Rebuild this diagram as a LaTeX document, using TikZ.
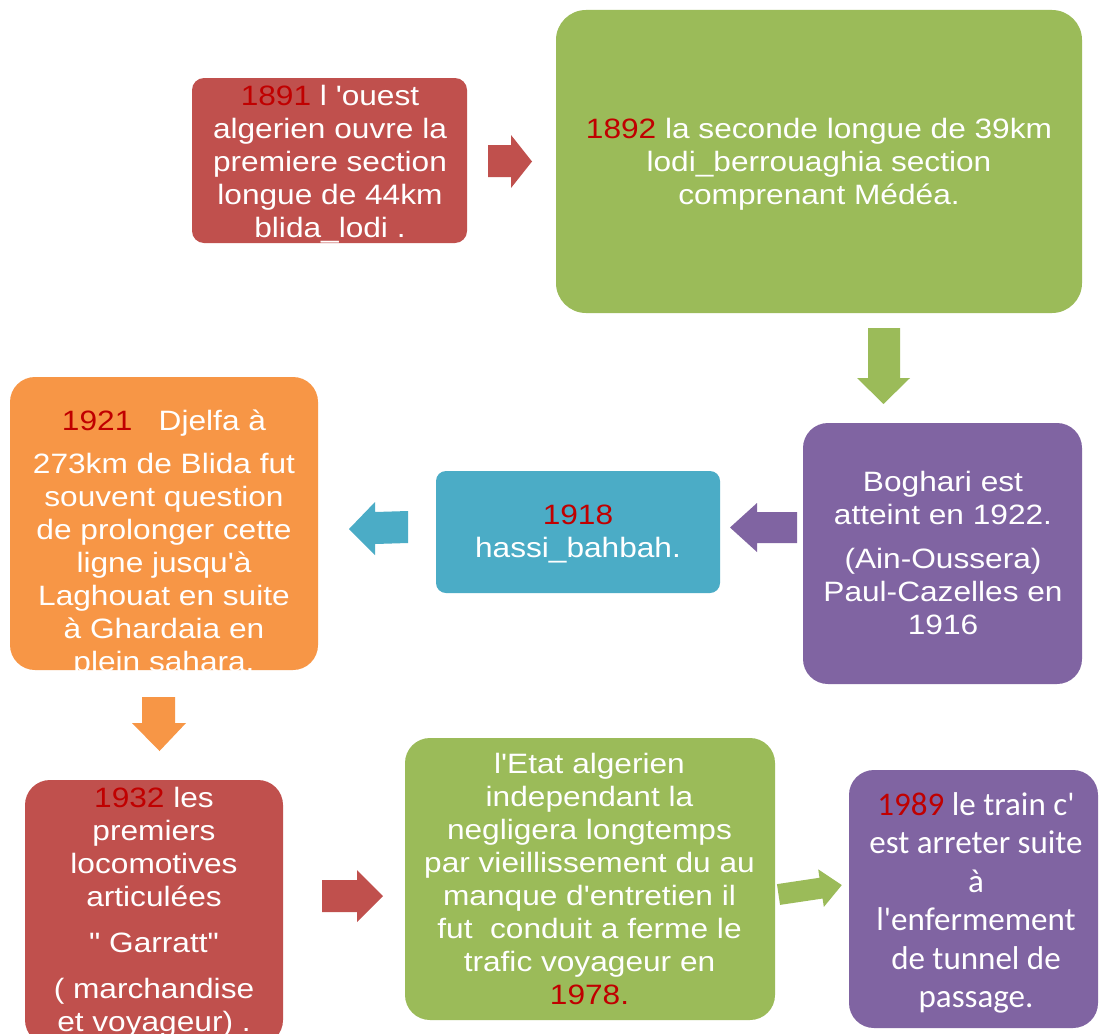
\documentclass[tikz,border=0pt]{standalone}
\usepackage{fontspec}
\setmainfont{Liberation Sans}[FakeStretch=1.13, Ligatures=TeXOff]
\newfontfamily\calfont{Carlito}[Ligatures=TeXOff]
\definecolor{cRed}{HTML}{C0504D}
\definecolor{cGreen}{HTML}{9BBB59}
\definecolor{cPurple}{HTML}{8064A2}
\definecolor{cBlue}{HTML}{4BACC6}
\definecolor{cOrange}{HTML}{F79646}
\definecolor{yr}{HTML}{C00000}
\tikzset{
  box/.style={draw=none, inner sep=0pt, outer sep=0pt},
  txt/.style={text=white, align=center, inner sep=0pt, anchor=north, font=\fontsize{28}{33}\selectfont},
  ctxt/.style={text=white, align=center, inner sep=0pt, anchor=north, font=\calfont\fontsize{33}{38.5}\selectfont},
}
\begin{document}
\begin{tikzpicture}[x=1pt,y=-1pt]
\useasboundingbox (0,0) rectangle (1099,1033);
\fill[white] (0,0) rectangle (1099,1033);
% boxes
\node[box, fill=cRed, minimum width=275pt, minimum height=165pt, rounded corners=12pt] (b1) at (329.5,160.5) {};
\node[box, fill=cGreen, minimum width=526pt, minimum height=303pt, rounded corners=30pt] (b2) at (819,161.5) {};
\node[box, fill=cPurple, minimum width=279pt, minimum height=261pt, rounded corners=25pt] (b3) at (942.5,553.5) {};
\node[box, fill=cBlue, minimum width=284pt, minimum height=122pt, rounded corners=10pt] (b4) at (578,532) {};
\node[box, fill=cOrange, minimum width=308pt, minimum height=293pt, rounded corners=25pt] (b5) at (164,523.5) {};
\node[box, fill=cRed, minimum width=258pt, minimum height=265pt, rounded corners=25pt] (b6) at (154,912.5) {};
\node[box, fill=cGreen, minimum width=370pt, minimum height=282pt, rounded corners=25pt] (b7) at (590,879) {};
\node[box, fill=cPurple, minimum width=249pt, minimum height=258pt, rounded corners=25pt] (b8) at (973.5,899) {};
% texts
\node[txt] (t1) at (330,81.9) {\strut{\color{yr}1891} l 'ouest\\algerien ouvre la\\premiere section\\longue de 44km\\blida\_lodi .};
\node[txt] (t2) at (819,114.9) {\strut{\color{yr}1892} la seconde longue de 39km\\lodi\_berrouaghia section\\comprenant Médéa.};
\node[txt] (t3) at (943,467.9) {\strut Boghari est\\atteint en 1922.\\[11pt](Ain-Oussera)\\Paul-Cazelles en\\1916};
\node[txt] (t4) at (578,500.9) {\strut{\color{yr}1918}\\hassi\_bahbah.};
\node[txt] (t5) at (164,406.9) {\strut{\color{yr}1921}\ \ \ Djelfa à\\[10pt]273km de Blida fut\\souvent question\\de prolonger cette\\ligne jusqu'à\\Laghouat en suite\\à Ghardaia en\\plein sahara.};
\node[txt] (t6) at (154,783.9) {\strut{\color{yr}1932} les\\premiers\\locomotives\\articulées\\[13pt]" Garratt"\\[13pt]( marchandise\\et voyageur) .};
\node[txt] (t7) at (589.5,749.9) {\strut l'Etat algerien\\independant la\\negligera longtemps\\par vieillissement du au\\manque d'entretien il\\fut\ \ conduit a ferme le\\trafic voyageur en\\{\color{yr}1978.}};
\node[ctxt] (t8) at (976,788) {\strut{\color{yr}1989} le train c'\\est arreter suite\\à\\l'enfermement\\de tunnel de\\passage.};
% block arrows
\fill[cRed] (488,145) -- (511,145) -- (511,135) -- (532,161.5) -- (511,188) -- (511,177) -- (488,177) -- cycle;
\fill[cGreen] (868,328) -- (900,328) -- (900,378) -- (910,378) -- (883.5,404) -- (857,378) -- (868,378) -- cycle;
\fill[cPurple] (797,512) -- (757,512) -- (757,503) -- (730,527.5) -- (757,552) -- (757,543) -- (797,543) -- cycle;
\fill[cBlue] (408,511) -- (375,512) -- (375,502) -- (349,529) -- (375,555) -- (375,544) -- (408,543) -- cycle;
\fill[cOrange] (142,697) -- (175,697) -- (175,723) -- (186,723) -- (159.5,751) -- (132,723) -- (142,723) -- cycle;
\fill[cRed] (322,880) -- (357,880) -- (357,870) -- (383,896) -- (357,922) -- (357,912) -- (322,912) -- cycle;
\begin{scope}[shift={(778.5,894.5)}, rotate=8.5]
\fill[cGreen] (0,-10.5) -- (43,-10.5) -- (43,-19) -- (64,0) -- (43,19) -- (43,10.5) -- (0,10.5) -- cycle;
\end{scope}
\end{tikzpicture}
\end{document}
